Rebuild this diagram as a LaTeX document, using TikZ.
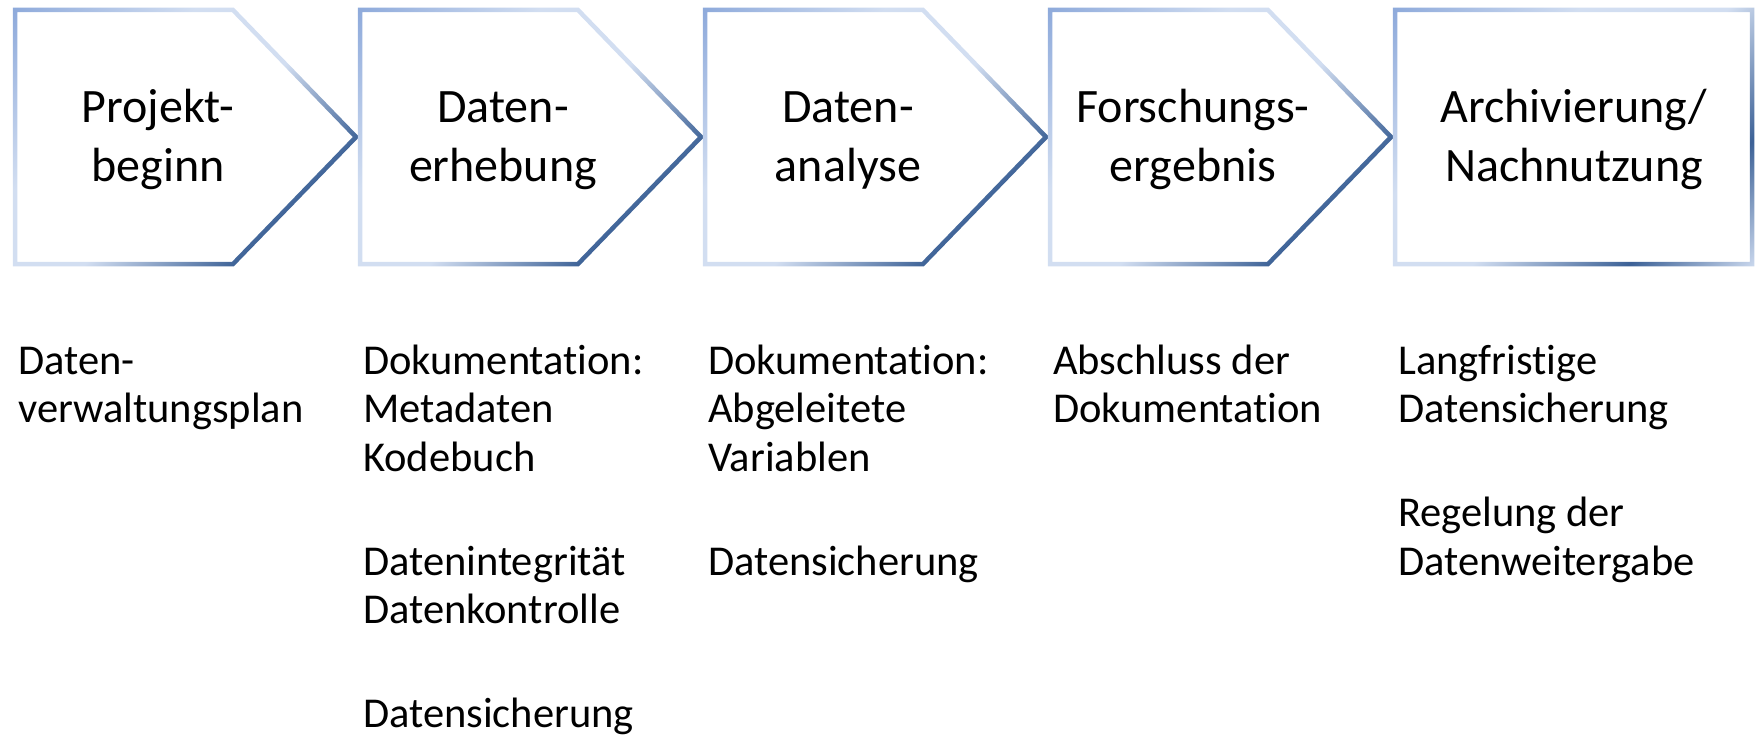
\documentclass[tikz,border=0pt]{standalone}
\usepackage{fontspec}
\setmainfont{Carlito}[Ligatures=NoCommon]
\usetikzlibrary{positioning}
\definecolor{rimmid}{HTML}{8EAADB}
\definecolor{rimlight}{HTML}{D2DEF1}
\definecolor{rimdark}{HTML}{3C6196}
\definecolor{rimend}{HTML}{C8D6EC}
\pgfdeclarehorizontalshading{rimshade}{100bp}{color(0bp)=(rimmid); color(14.6bp)=(rimmid); color(36bp)=(rimlight); color(53bp)=(rimlight); color(71bp)=(rimdark); color(85.3bp)=(rimend); color(100bp)=(rimend)}
\tikzstyle{rim}   = [shading=rimshade, shading angle=-45, even odd rule]
\tikzstyle{stage} = [align=center, anchor=base, inner sep=0pt, font=\fontsize{48}{59}\selectfont]
\tikzstyle{note}  = [align=left, anchor=base west, inner sep=0pt, font=\fontsize{42.5}{48.5}\selectfont]

\begin{document}
\begin{tikzpicture}[x=1pt, y=-1pt]
    \useasboundingbox (0,0) rectangle (1756,738);
    % chevrons with shaded rim
    \foreach \l in {15,360,705,1050} {
        \shade[rim] (\l-2.25,7.75) -- (\l+218.9,7.75) -- (\l+344.2,137) -- (\l+218.9,266.25) -- (\l-2.25,266.25) -- cycle
                    (\l+2.25,12.25) -- (\l+217.1,12.25) -- (\l+337.8,137) -- (\l+217.1,261.75) -- (\l+2.25,261.75) -- cycle;
    }
    \shade[rim] (1392.75,7.75) rectangle (1754.25,266.25) (1397.25,12.25) rectangle (1749.75,261.75);
    % stage titles (base = last line)
    \node[stage] (s1) at (158,182) {Projekt-\\beginn};
    \node[stage] (s2) at (503,182) {Daten-\\erhebung};
    \node[stage] (s3) at (848,182) {Daten-\\analyse};
    \node[stage] (s4) at (1193,182) {Forschungs-\\ergebnis};
    \node[stage] (s5) at (1574,182) {Archivierung/\\Nachnutzung};
    % notes below
    \node[note] (n1) at (18,422.5) {Daten-\\verwaltungsplan};
    \node[note] (n2) at (363,727.5) {Dokumentation:\\Metadaten\\Kodebuch\\[55.5pt]Datenintegrität\\Datenkontrolle\\[55.5pt]Datensicherung};
    \node[note] (n3) at (708,575) {Dokumentation:\\Abgeleitete\\Variablen\\[55.5pt]Datensicherung};
    \node[note] (n4) at (1053,422.5) {Abschluss der\\Dokumentation};
    \node[note] (n5) at (1398,575) {Langfristige\\Datensicherung\\[55.5pt]Regelung der\\Datenweitergabe};
\end{tikzpicture}
\end{document}
